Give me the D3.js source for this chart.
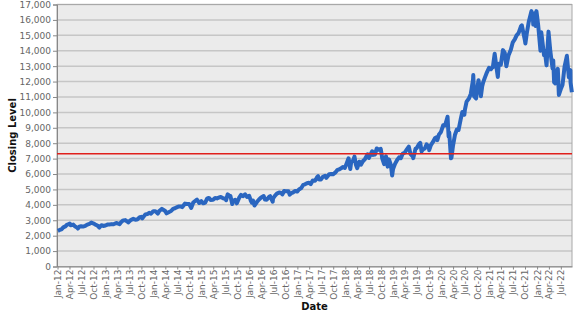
<!DOCTYPE html>
<html><head><meta charset="utf-8">
<script src="https://cdn.jsdelivr.net/npm/d3@7"></script>
<style>body{margin:0;background:#fff}svg{display:block}text{font-family:"DejaVu Sans",Verdana,sans-serif}</style>
</head><body><svg id="c" width="577" height="315"></svg>
<script>
const dates = ["2012-01-03","2012-01-17","2012-01-31","2012-02-14","2012-02-29","2012-03-15","2012-03-30","2012-04-03","2012-04-10","2012-04-30","2012-05-15","2012-05-31","2012-06-04","2012-06-15","2012-06-29","2012-07-13","2012-07-31","2012-08-15","2012-08-31","2012-09-14","2012-09-28","2012-10-15","2012-10-31","2012-11-15","2012-11-30","2012-12-14","2012-12-31",
"2013-01-15","2013-01-31","2013-02-15","2013-02-28","2013-03-15","2013-03-28","2013-04-18","2013-04-30","2013-05-15","2013-05-31","2013-06-24","2013-06-28","2013-07-15","2013-07-31","2013-08-15","2013-08-30","2013-09-18","2013-09-30","2013-10-08","2013-10-31","2013-11-15","2013-11-29","2013-12-13","2013-12-31",
"2014-01-15","2014-02-03","2014-02-14","2014-02-28","2014-03-06","2014-03-31","2014-04-11","2014-04-30","2014-05-15","2014-05-30","2014-06-13","2014-06-30","2014-07-15","2014-07-31","2014-08-07","2014-08-29","2014-09-15","2014-09-30","2014-10-15","2014-10-31","2014-11-14","2014-11-28","2014-12-16","2014-12-31",
"2015-01-15","2015-01-30","2015-02-13","2015-02-27","2015-03-12","2015-03-31","2015-04-15","2015-04-30","2015-05-15","2015-05-29","2015-06-15","2015-06-30","2015-07-08","2015-07-20","2015-07-31","2015-08-10","2015-08-24","2015-08-31","2015-09-15","2015-09-28","2015-10-15","2015-10-30","2015-11-13","2015-11-30","2015-12-14","2015-12-31",
"2016-01-11","2016-01-20","2016-01-29","2016-02-09","2016-02-29","2016-03-15","2016-03-31","2016-04-19","2016-04-29","2016-05-12","2016-05-31","2016-06-08","2016-06-27","2016-06-30","2016-07-15","2016-07-29","2016-08-15","2016-08-31","2016-09-09","2016-09-22","2016-09-30","2016-10-25","2016-11-04","2016-11-15","2016-11-30","2016-12-15","2016-12-30",
"2017-01-13","2017-01-31","2017-02-15","2017-02-28","2017-03-15","2017-03-31","2017-04-13","2017-04-28","2017-05-17","2017-05-31","2017-06-08","2017-06-15","2017-06-30","2017-07-14","2017-07-31","2017-08-10","2017-08-31","2017-09-15","2017-09-29","2017-10-16","2017-10-31","2017-11-15","2017-11-30","2017-12-15","2017-12-29",
"2018-01-12","2018-01-26","2018-02-08","2018-02-15","2018-02-28","2018-03-12","2018-03-23","2018-04-02","2018-04-18","2018-04-30","2018-05-15","2018-05-31","2018-06-20","2018-06-29","2018-07-25","2018-07-31","2018-08-15","2018-08-29","2018-09-14","2018-09-28","2018-10-10","2018-10-24","2018-10-31","2018-11-07","2018-11-20","2018-11-30","2018-12-14","2018-12-24","2018-12-31",
"2019-01-15","2019-01-31","2019-02-15","2019-02-28","2019-03-15","2019-03-29","2019-04-15","2019-04-30","2019-05-13","2019-05-31","2019-06-03","2019-06-20","2019-06-28","2019-07-15","2019-07-26","2019-08-05","2019-08-15","2019-08-30","2019-09-12","2019-09-30","2019-10-02","2019-10-15","2019-10-31","2019-11-15","2019-11-29","2019-12-03","2019-12-16","2019-12-31",
"2020-01-17","2020-01-31","2020-02-19","2020-02-27","2020-03-03","2020-03-16","2020-03-20","2020-03-31","2020-04-15","2020-04-30","2020-05-13","2020-05-29","2020-06-10","2020-06-26","2020-06-30","2020-07-13","2020-07-31","2020-08-14","2020-08-31","2020-09-02","2020-09-08","2020-09-23","2020-09-30","2020-10-12","2020-10-30","2020-11-09","2020-11-16","2020-11-30","2020-12-15","2020-12-31",
"2021-01-14","2021-01-27","2021-01-29","2021-02-12","2021-02-26","2021-03-08","2021-03-15","2021-03-31","2021-04-16","2021-04-30","2021-05-12","2021-05-28","2021-06-15","2021-06-30","2021-07-16","2021-07-29","2021-08-13","2021-08-31","2021-09-07","2021-09-30","2021-10-04","2021-10-15","2021-10-29","2021-11-19","2021-11-30","2021-12-03","2021-12-10","2021-12-20","2021-12-27","2021-12-31",
"2022-01-10","2022-01-27","2022-02-02","2022-02-23","2022-03-01","2022-03-14","2022-03-29","2022-04-12","2022-04-29","2022-05-04","2022-05-11","2022-05-20","2022-05-31","2022-06-08","2022-06-16","2022-06-30","2022-07-14","2022-07-29","2022-08-16","2022-08-31","2022-09-12","2022-09-13","2022-09-23"];
const closes = [2310,2370,2410,2540,2600,2720,2755,2790,2680,2720,2590,2520,2460,2580,2615,2590,2640,2720,2770,2850,2800,2720,2660,2530,2680,2630,2660,
2720,2730,2750,2740,2790,2820,2750,2890,2990,3010,2860,2910,3030,3090,3040,3050,3200,3220,3120,3380,3400,3480,3430,3590,
3590,3430,3600,3700,3740,3600,3450,3540,3600,3740,3780,3850,3900,3890,3850,4080,4050,4050,3800,4150,4250,4340,4120,4240,
4100,4150,4400,4450,4320,4330,4440,4420,4480,4510,4430,4400,4300,4680,4600,4580,4050,4270,4330,4100,4450,4650,4560,4680,4520,4590,
4300,4150,4280,3960,4200,4350,4480,4570,4340,4330,4520,4560,4200,4420,4600,4730,4800,4770,4680,4900,4880,4880,4660,4750,4810,4900,4860,
5000,5090,5300,5330,5400,5430,5350,5580,5570,5790,5860,5650,5650,5820,5880,5750,5990,6000,5980,6090,6250,6300,6370,6460,6400,
6700,7020,6330,6780,6850,7130,6600,6380,6800,6610,6830,6970,7280,7040,7480,7240,7270,7660,7580,7630,7000,6640,6970,7150,6480,6950,6590,5900,6330,
6660,6910,7080,7030,7330,7380,7600,7780,7290,7130,7030,7650,7670,7920,8020,7460,7600,7660,7920,7750,7550,7880,8080,8320,8400,8200,8570,8730,
9170,9150,9720,8440,8690,7020,7070,7810,8530,8890,8860,9550,10020,9850,10160,10700,10900,11200,12110,12420,11050,10900,11420,12090,11050,11700,11940,12270,12600,12890,
12800,12950,12930,13800,12900,12300,13150,13090,14040,13860,12990,13690,14070,14550,14750,15000,15140,15580,15650,14690,14470,15150,15850,16570,16140,15700,16410,15600,16570,16320,
15600,14000,15200,13700,14000,13050,15240,13960,12850,13370,11950,11880,12640,12830,11130,11500,11800,12950,13670,12270,12740,11930,11310];
const yTicks = d3.range(0, 17001, 1000);
const refLevel = 7320;
const xStart = "2011-12-28", xEnd = "2022-09-24";

const parse = d3.timeParse("%Y-%m-%d");
const data = dates.map((d,i)=>({date:parse(d), v:closes[i]}));
const svg = d3.select("#c");
const L=57, R=572, T=4.5, B=266.5;
const x = d3.scaleTime().domain([parse(xStart), parse(xEnd)]).range([L,R]);
const y = d3.scaleLinear().domain([0,17000]).range([B,T]);

svg.append("rect").attr("x",L).attr("y",T).attr("width",R-L).attr("height",B-T).attr("fill","#ebebeb");
svg.append("g").selectAll("line").data(yTicks.slice(1)).join("line")
  .attr("x1",L).attr("x2",R).attr("y1",d=>y(d)).attr("y2",d=>y(d))
  .attr("stroke","#c6c6c6").attr("stroke-width",1.5);
svg.append("rect").attr("x",L).attr("y",T).attr("width",R-L).attr("height",B-T)
  .attr("fill","none").attr("stroke","#a8a8a8").attr("stroke-width",1);

const ya = svg.append("g").attr("transform",`translate(${L},0)`)
  .call(d3.axisLeft(y).tickValues(yTicks).tickFormat(d3.format(",")).tickSize(4).tickPadding(2));
ya.select(".domain").attr("stroke","#888");
ya.selectAll(".tick line").attr("stroke","#888");
ya.selectAll("text").attr("fill","#666").style("font-size","9px");

const qTicks = d3.timeMonth.every(3).range(parse("2012-01-01"), parse("2022-08-01"));
const xa = svg.append("g").attr("transform",`translate(0,${B})`)
  .call(d3.axisBottom(x).tickValues(qTicks).tickFormat(d3.timeFormat("%b-%y")).tickSize(3).tickSizeOuter(0));
xa.select(".domain").attr("stroke","#888");
xa.selectAll(".tick line").attr("stroke","#888");
xa.selectAll("text").attr("fill","#666").style("font-size","9px")
  .attr("transform","rotate(-90)").attr("text-anchor","end").attr("x",-3).attr("y",0).attr("dy","0.33em");

svg.append("path").datum(data)
  .attr("d", d3.line().x(d=>x(d.date)).y(d=>y(d.v)))
  .attr("fill","none").attr("stroke","#2a66c0").attr("stroke-width",4).attr("stroke-linejoin","round");

svg.append("line").attr("x1",L).attr("x2",R).attr("y1",y(refLevel)).attr("y2",y(refLevel))
  .attr("stroke","#e0201c").attr("stroke-width",1.5);

svg.append("text").attr("x",(L+R)/2).attr("y",310).attr("text-anchor","middle")
  .style("font-size","10px").style("font-weight","bold").attr("fill","#111").text("Date");
svg.append("text").attr("transform",`translate(16,${(T+B)/2}) rotate(-90)`).attr("text-anchor","middle")
  .style("font-size","10px").style("font-weight","bold").attr("fill","#111").text("Closing Level");
</script></body></html>
